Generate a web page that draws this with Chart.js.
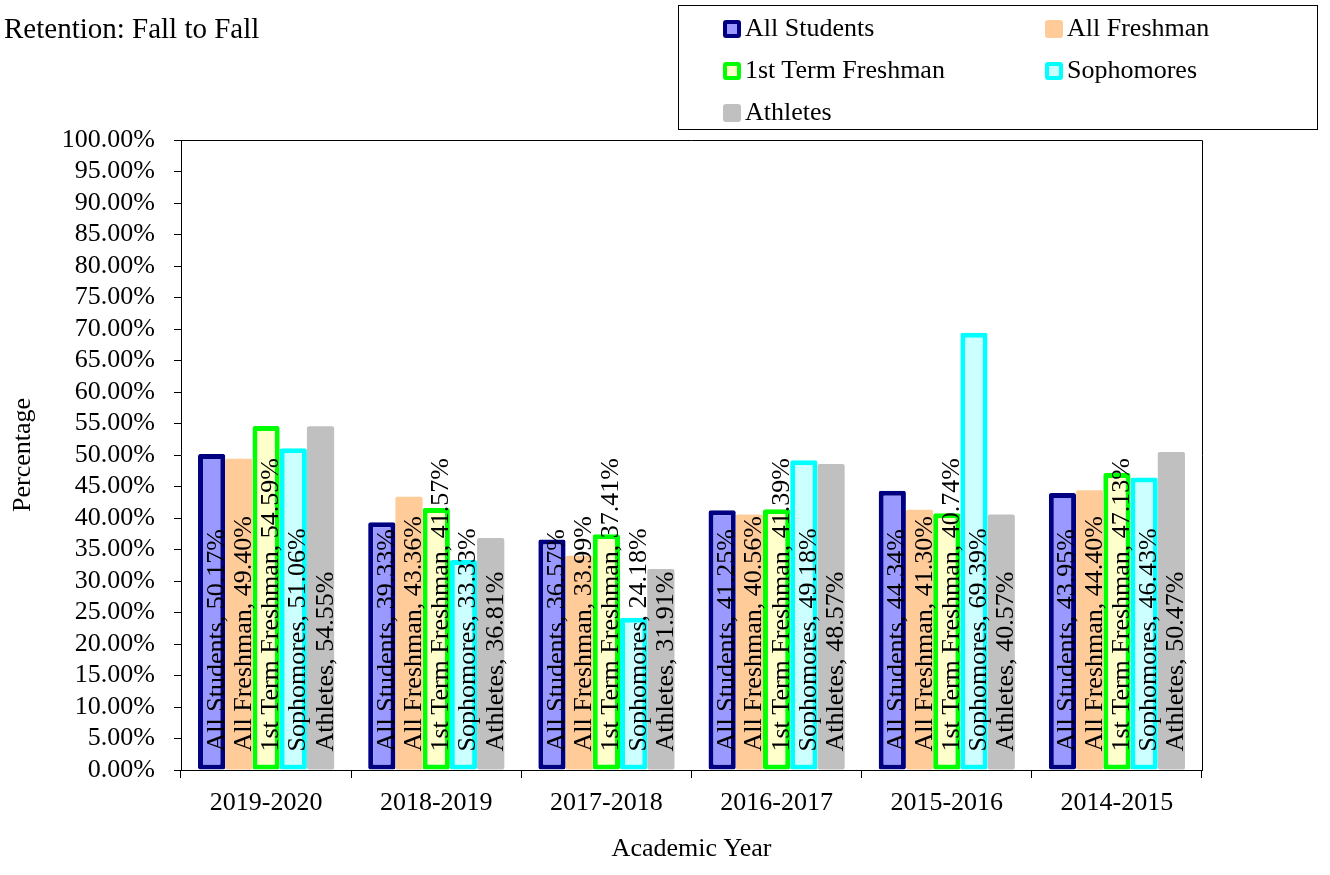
<!DOCTYPE html>
<html>
<head>
<meta charset="utf-8">
<script src="https://cdn.jsdelivr.net/npm/chart.js@4/dist/chart.umd.min.js"></script>
<style>
  body { margin: 0; background: #fff; font-family: "Liberation Serif", "Times New Roman", serif; }
  #wrap { position: relative; width: 1330px; height: 875px; }
  #title { position: absolute; left: 4px; top: 12px; font-size: 29px; line-height: 32px; color: #000; }
  #legend { position: absolute; left: 678px; top: 5px; width: 638px; height: 123px; border: 1px solid #000; }
  .item { position: absolute; height: 32px; line-height: 32px; font-size: 26px; color: #000; white-space: nowrap; }
  .sw { display: inline-block; width: 18px; height: 18px; box-sizing: border-box; border-radius: 3px; vertical-align: -2px; margin-right: 4px; }
</style>
</head>
<body>
<div id="wrap">
  <canvas id="canvas-bar" width="1330" height="875"></canvas>
  <div id="title">Retention: Fall to Fall</div>
  <div id="legend"></div>
</div>
<script>
const years = ["2019-2020", "2018-2019", "2017-2018", "2016-2017", "2015-2016", "2014-2015"];
const seriesNames = ["All Students", "All Freshman", "1st Term Freshman", "Sophomores", "Athletes"];
const allStudents = [50.17, 39.33, 36.57, 41.25, 44.34, 43.95];
const allFreshman = [49.40, 43.36, 33.99, 40.56, 41.30, 44.40];
const firstTermFreshman = [54.59, 41.57, 37.41, 41.39, 40.74, 47.13];
const sophomores = [51.06, 33.33, 24.18, 49.18, 69.39, 46.43];
const athletes = [54.55, 36.81, 31.91, 48.57, 40.57, 50.47];

const fills = ["#9999FF", "#FFCC99", "#FFFFCC", "#CCFFFF", "#C0C0C0"];
const borders = ["#000080", "#FFCC99", "#00FF00", "#00FFFF", "#C0C0C0"];
const borderWidths = [5, 0, 5, 5, 0];

const font = { family: '"Liberation Serif", "Times New Roman", serif', size: 26 };

window.addEventListener("load", start);

function start() {
  const values = [allStudents, allFreshman, firstTermFreshman, sophomores, athletes];
  const datasets = seriesNames.map((name, i) => ({
    label: name,
    data: values[i],
    backgroundColor: fills[i],
    borderColor: borders[i],
    borderWidth: borderWidths[i],
    borderSkipped: false,
    borderRadius: 2,
    categoryPercentage: 0.8,
    barPercentage: 1.0
  }));

  // vertical data labels + box round the plot area
  const labelsAndBox = {
    id: "labelsAndBox",
    afterDatasetsDraw(chart) {
      const ctx = chart.ctx;
      ctx.save();
      ctx.font = "26px " + font.family;
      ctx.fillStyle = "#000";
      ctx.textAlign = "left";
      ctx.textBaseline = "alphabetic";
      chart.data.datasets.forEach((ds, i) => {
        chart.getDatasetMeta(i).data.forEach((bar, j) => {
          ctx.save();
          ctx.translate(bar.x + 12, bar.base - 18);
          ctx.rotate(-Math.PI / 2);
          ctx.fillText(ds.label + ", " + ds.data[j].toFixed(2) + "%", 0, 0);
          ctx.restore();
        });
      });
      const a = chart.chartArea;
      ctx.strokeStyle = "#000";
      ctx.lineWidth = 1;
      ctx.beginPath();
      ctx.moveTo(a.left, a.top + 0.5);
      ctx.lineTo(a.right + 0.5, a.top + 0.5);
      ctx.lineTo(a.right + 0.5, a.bottom);
      ctx.stroke();
      ctx.restore();
    }
  };

  const ctx = document.getElementById("canvas-bar").getContext("2d");
  new Chart(ctx, {
    type: "bar",
    data: { labels: years, datasets: datasets },
    options: {
      responsive: false,
      animation: false,
      layout: { padding: { top: 140, right: 128, bottom: 10, left: 0 } },
      plugins: { legend: { display: false }, tooltip: { enabled: false } },
      scales: {
        x: {
          grid: { drawOnChartArea: false, tickLength: 8, color: "#000", offset: true },
          border: { color: "#000" },
          ticks: { color: "#000", font: font, padding: 10, maxRotation: 0 },
          title: { display: true, text: "Academic Year", color: "#000", font: font, padding: 0 },
          afterFit(scale) { scale.height = 95; }
        },
        y: {
          min: 0,
          max: 100,
          grid: { drawOnChartArea: false, tickLength: 7, color: "#000" },
          border: { color: "#000" },
          ticks: {
            stepSize: 5,
            autoSkip: false,
            color: "#000",
            font: font,
            padding: 19,
            callback: v => v.toFixed(2) + "%"
          },
          title: { display: true, text: "Percentage", color: "#000", font: font, padding: 8 },
          afterFit(scale) { scale.width = 181; }
        }
      }
    },
    plugins: [labelsAndBox]
  });

  // legend box, two columns
  const legend = document.getElementById("legend");
  seriesNames.forEach((name, i) => {
    const item = document.createElement("div");
    item.className = "item";
    item.style.left = (44 + (i % 2) * 322) + "px";
    item.style.top = (6 + Math.floor(i / 2) * 42) + "px";
    const sw = document.createElement("span");
    sw.className = "sw";
    sw.style.background = fills[i];
    sw.style.border = (borderWidths[i] ? 4 : 0) + "px solid " + borders[i];
    item.appendChild(sw);
    item.appendChild(document.createTextNode(name));
    legend.appendChild(item);
  });
}
</script>
</body>
</html>
